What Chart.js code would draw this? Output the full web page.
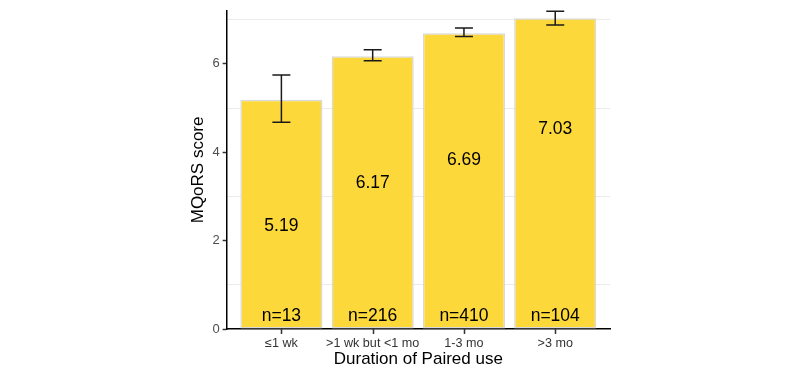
<!DOCTYPE html>
<html>
<head>
<meta charset="utf-8">
<script src="https://cdn.jsdelivr.net/npm/chart.js@4"></script>
<style>
  html, body { margin: 0; padding: 0; background: #fff; }
  #wrap { width: 800px; height: 372px; }
</style>
</head>
<body>
<div id="wrap"><canvas id="chart" width="800" height="372"></canvas></div>
<script>
// Data
const categories = ['\u22641 wk', '>1 wk but <1 mo', '1-3 mo', '>3 mo'];
const meanScore = [5.19, 6.17, 6.69, 7.03];
const errLow = [4.68, 6.07, 6.62, 6.88];
const errHigh = [5.75, 6.32, 6.81, 7.19];
const sampleN = [13, 216, 410, 104];
const valueLabelY = [2.32, 3.29, 3.82, 4.53];
const nLabelY = 0.29;

const FONT = '"Liberation Sans", Arial, sans-serif';

// error bars + text inside the bars
const barExtras = {
  id: 'barExtras',
  afterDatasetsDraw(chart) {
    const ctx = chart.ctx;
    const xs = chart.scales.x, ys = chart.scales.y;
    ctx.save();
    ctx.strokeStyle = '#1a1a1a';
    ctx.lineWidth = 1.5;
    for (let i = 0; i < meanScore.length; i++) {
      const cx = xs.getPixelForValue(i + 1);
      const top = ys.getPixelForValue(errHigh[i]);
      const bot = ys.getPixelForValue(errLow[i]);
      ctx.beginPath();
      ctx.moveTo(cx, top); ctx.lineTo(cx, bot);
      ctx.moveTo(cx - 9, top); ctx.lineTo(cx + 9, top);
      ctx.moveTo(cx - 9, bot); ctx.lineTo(cx + 9, bot);
      ctx.stroke();
    }
    ctx.fillStyle = '#000';
    ctx.font = '17.5px ' + FONT;
    ctx.textAlign = 'center';
    ctx.textBaseline = 'middle';
    for (let i = 0; i < meanScore.length; i++) {
      const cx = xs.getPixelForValue(i + 1);
      ctx.fillText(meanScore[i].toFixed(2), cx, ys.getPixelForValue(valueLabelY[i]));
      ctx.fillText('n=' + sampleN[i], cx, ys.getPixelForValue(nLabelY));
    }
    ctx.restore();
  },
  // small tick marks under the x axis
  afterDraw(chart) {
    const ctx = chart.ctx;
    const xs = chart.scales.x;
    const y0 = chart.chartArea.bottom;
    ctx.save();
    ctx.strokeStyle = '#333';
    ctx.lineWidth = 1.5;
    ctx.beginPath();
    categories.forEach((c, i) => {
      const cx = Math.round(xs.getPixelForValue(i + 1)) + 0.5;
      ctx.moveTo(cx, y0);
      ctx.lineTo(cx, y0 + 5);
    });
    ctx.stroke();
    ctx.restore();
  }
};

new Chart(document.getElementById('chart'), {
  type: 'bar',
  data: {
    datasets: [{
      data: meanScore.map((v, i) => ({ x: i + 1, y: v })),
      backgroundColor: '#FDD83A',
      borderColor: '#d9d9d9',
      borderWidth: 1.5,
      borderSkipped: false,
      barPercentage: 0.9,
      categoryPercentage: 1
    }]
  },
  options: {
    responsive: false,
    animation: false,
    layout: { padding: { top: 6, right: 190, left: 188, bottom: 0 } },
    plugins: { legend: { display: false }, tooltip: { enabled: false } },
    scales: {
      x: {
        type: 'linear',
        offset: false,
        min: 0.4,
        max: 4.6,
        afterBuildTicks(scale) { scale.ticks = categories.map((c, i) => ({ value: i + 1 })); },
        afterFit(scale) { scale.height = 43; },
        ticks: {
          callback: (v) => categories[v - 1],
          color: '#333',
          font: { family: FONT, size: 12.6 },
          padding: 3,
          maxRotation: 0,
          autoSkip: false
        },
        grid: {
          offset: false,
          drawOnChartArea: false,
          tickLength: 4,
          tickColor: 'rgba(0,0,0,0)'
        },
        border: { color: '#000', width: 1.5 },
        title: {
          display: true,
          text: 'Duration of Paired use',
          color: '#000',
          font: { family: FONT, size: 17 },
          padding: { top: 0, bottom: 2 }
        }
      },
      y: {
        min: 0,
        max: 7.2,
        afterBuildTicks(scale) {
          scale.ticks = [0, 1, 2, 3, 4, 5, 6, 7].map(v => ({ value: v }));
        },
        ticks: {
          callback: (v) => (v % 2 === 0 ? String(v) : ''),
          color: '#4d4d4d',
          font: { family: FONT, size: 13 },
          padding: 3
        },
        grid: {
          color: (c) => (c.tick && c.tick.value % 2 === 1 ? '#ebebeb' : 'rgba(0,0,0,0)'),
          tickColor: (c) => (c.tick && c.tick.value % 2 === 0 ? '#333' : 'rgba(0,0,0,0)'),
          tickLength: 4,
          tickWidth: 1.5,
          lineWidth: 1
        },
        border: { color: '#000', width: 1.5 },
        title: {
          display: true,
          text: 'MQoRS score',
          color: '#000',
          font: { family: FONT, size: 17 },
          padding: { top: 0, bottom: 1 }
        }
      }
    }
  },
  plugins: [barExtras]
});
</script>
</body>
</html>
